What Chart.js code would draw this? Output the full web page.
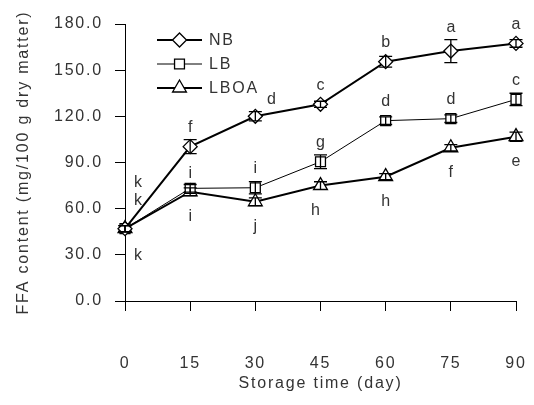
<!DOCTYPE html>
<html>
<head>
<meta charset="utf-8">
<script src="https://cdn.jsdelivr.net/npm/chart.js@4.4.0/dist/chart.umd.min.js"></script>
<style>
  html, body { margin: 0; padding: 0; background: #fff; }
  #wrap { width: 534px; height: 405px; }
</style>
</head>
<body>
<div id="wrap"><canvas id="ffaChart"></canvas></div>
<script>
// Storage days and FFA values
const days = [0, 15, 30, 45, 60, 75, 90];
const nbValues   = [47, 100.3, 120, 127.8, 155.5, 162.4, 167.4];
const lbValues   = [47, 73.2, 73.6, 90.5, 117.2, 118.5, 131];
const lboaValues = [47, 71, 64.5, 75, 80.8, 99.6, 106.8];
const nbErrors   = [2, 4.5, 3, 2, 3.5, 7.5, 2.5];
const lbErrors   = [2, 2.5, 4, 4.5, 2.5, 2.5, 4];
const lboaErrors = [2, 2.5, 2.5, 2.5, 2, 2, 3];
const nbLetters   = ['k', 'f', 'd', 'c', 'b', 'a', 'a'];
const lbLetters   = ['k', 'i', 'i', 'g', 'd', 'd', 'c'];
const lboaLetters = ['k', 'i', 'j', 'h', 'h', 'f', 'e'];
const yTicks = [0, 30, 60, 90, 120, 150, 180];

const font = "'Liberation Sans', Arial, sans-serif";
const spacing = '1.8px';
const textColor = '#333';
Chart.defaults.font.family = font;
Chart.defaults.color = textColor;

const toXY = (vals) => vals.map((v, i) => ({ x: days[i], y: v }));

// label placement (pixels from the point); day 0 labels sit to the right
const letterShift = [
  { dy: -19, first: { dx: 13, dy: -46 }, special: { 2: { dx: 16, dy: -17 }, 5: { dx: 0, dy: -23 } } },
  { dy: -19, first: { dx: 13, dy: -28 }, special: { 1: { dx: 0, dy: -15 } } },
  { dy: 25, first: { dx: 13, dy: 27 }, special: { 3: { dx: -5, dy: 25 } } }
];
const errorSets = [nbErrors, lbErrors, lboaErrors];
const letterSets = [nbLetters, lbLetters, lboaLetters];

// the original text is set with a little tracking
const tracking = {
  id: 'tracking',
  beforeUpdate(chart) { chart.ctx.letterSpacing = spacing; },
  beforeLayout(chart) { chart.ctx.letterSpacing = spacing; },
  beforeDraw(chart) { chart.ctx.letterSpacing = spacing; }
};

const extras = {
  id: 'extras',
  afterDatasetsDraw(chart) {
    const { ctx, scales: { x, y } } = chart;
    ctx.save();
    // error bars on top of the markers
    ctx.strokeStyle = '#000';
    ctx.lineWidth = 1.3;
    chart.data.datasets.forEach((ds, k) => {
      ds.data.forEach((p, i) => {
        const e = errorSets[k][i];
        const px = x.getPixelForValue(p.x);
        const top = y.getPixelForValue(p.y + e);
        const bot = y.getPixelForValue(p.y - e);
        ctx.beginPath();
        ctx.moveTo(px, top); ctx.lineTo(px, bot);
        ctx.moveTo(px - 6.5, top); ctx.lineTo(px + 6.5, top);
        ctx.moveTo(px - 6.5, bot); ctx.lineTo(px + 6.5, bot);
        ctx.stroke();
      });
    });
    // significance letters
    ctx.letterSpacing = '0px';
    ctx.fillStyle = textColor;
    ctx.font = '16px ' + font;
    ctx.textAlign = 'center';
    ctx.textBaseline = 'middle';
    chart.data.datasets.forEach((ds, k) => {
      const sh = letterShift[k];
      ds.data.forEach((p, i) => {
        let off = { dx: 0, dy: sh.dy };
        if (i === 0) off = sh.first;
        else if (sh.special[i]) off = sh.special[i];
        ctx.fillText(letterSets[k][i], x.getPixelForValue(p.x) + off.dx, y.getPixelForValue(p.y) + off.dy);
      });
    });
    // legend: line with marker in the middle
    ctx.letterSpacing = spacing;
    chart.data.datasets.forEach((ds, k) => {
      const ly = 40 + k * 24;
      ctx.strokeStyle = '#000';
      ctx.lineWidth = ds.borderWidth;
      ctx.beginPath();
      ctx.moveTo(157, ly); ctx.lineTo(202, ly);
      ctx.stroke();
      ctx.fillStyle = '#fff';
      ctx.lineWidth = 1.3;
      Chart.helpers.drawPoint(ctx, { pointStyle: ds.pointStyle, radius: ds.pointRadius, rotation: 0, borderWidth: 1.3 }, 179.5, ly);
      ctx.fillStyle = textColor;
      ctx.textAlign = 'left';
      ctx.fillText(ds.label, 209, ly + 1);
    });
    ctx.restore();
  }
};

new Chart(document.getElementById('ffaChart'), {
  type: 'line',
  data: {
    datasets: [
      { label: 'NB', data: toXY(nbValues), borderColor: '#000', borderWidth: 2, pointStyle: 'rectRot', pointRadius: 7, pointBackgroundColor: '#fff', pointBorderColor: '#000', pointBorderWidth: 1.3 },
      { label: 'LB', data: toXY(lbValues), borderColor: '#000', borderWidth: 1, pointStyle: 'rect', pointRadius: 7, pointBackgroundColor: '#fff', pointBorderColor: '#000', pointBorderWidth: 1.3 },
      { label: 'LBOA', data: toXY(lboaValues), borderColor: '#000', borderWidth: 2, pointStyle: 'triangle', pointRadius: 8, pointBackgroundColor: '#fff', pointBorderColor: '#000', pointBorderWidth: 1.3 }
    ]
  },
  options: {
    responsive: true,
    maintainAspectRatio: false,
    animation: false,
    clip: false,
    layout: { padding: { top: 24, right: 18, left: 0, bottom: 0 } },
    plugins: { legend: { display: false }, tooltip: { enabled: false } },
    scales: {
      x: {
        type: 'linear', min: 0, max: 90,
        afterBuildTicks: (s) => { s.ticks = days.map(v => ({ value: v })); },
        afterFit: (s) => { s.height = 104; s.paddingLeft = 0; s.paddingRight = 0; },
        grid: { drawOnChartArea: false, drawTicks: true, tickLength: 10, color: '#000' },
        border: { display: true, color: '#000', width: 1 },
        ticks: { padding: 43, font: { size: 16 }, color: textColor, maxRotation: 0 },
        title: { display: true, text: 'Storage time (day)', font: { size: 16 }, color: textColor, padding: { top: 0, bottom: 12 } }
      },
      y: {
        min: 0, max: 180,
        afterBuildTicks: (s) => { s.ticks = yTicks.map(v => ({ value: v })); },
        afterFit: (s) => { s.width = 125; s.paddingTop = 0; s.paddingBottom = 0; },
        grid: { drawOnChartArea: false, drawTicks: true, tickLength: 10, color: '#000' },
        border: { display: true, color: '#000', width: 1 },
        ticks: { padding: 12, font: { size: 16 }, color: textColor, callback: (v) => Number(v).toFixed(1) },
        title: { display: true, text: 'FFA content (mg/100 g dry matter)', font: { size: 16 }, color: textColor, padding: { top: 14, bottom: 4 } }
      }
    }
  },
  plugins: [tracking, extras]
});
</script>
</body>
</html>
